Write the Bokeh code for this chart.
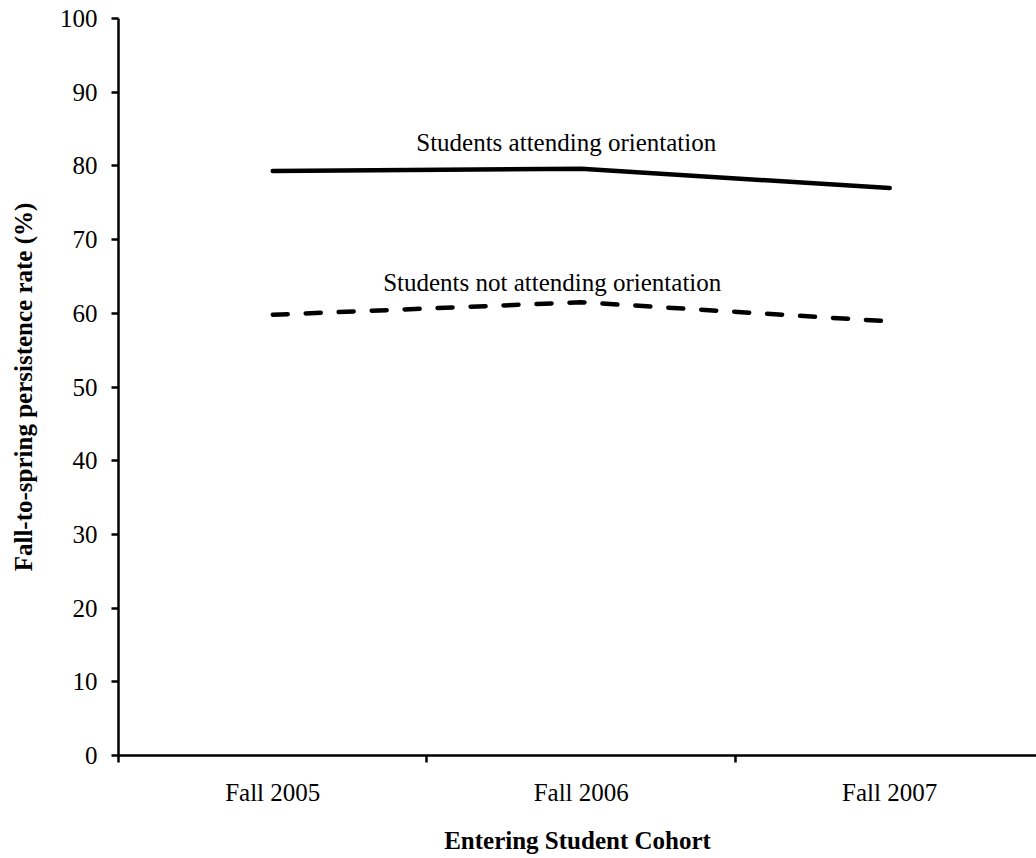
from bokeh.plotting import figure
from bokeh.models import Range1d, FixedTicker, Label, ColumnDataSource
from bokeh.embed import file_html
from bokeh.resources import INLINE

# ---- data ----
cohorts = ["Fall 2005", "Fall 2006", "Fall 2007"]
attending = [79.3, 79.6, 77.0]
not_attending = [59.8, 61.5, 58.9]
series_names = ["Students attending orientation", "Students not attending orientation"]
y_ticks = [0, 10, 20, 30, 40, 50, 60, 70, 80, 90, 100]

FONT = "Liberation Serif"
FS = "25px"

xc = [i + 0.5 for i in range(len(cohorts))]
bounds = [i for i in range(len(cohorts) + 1)]

p = figure(width=1036, height=856, output_backend="svg", toolbar_location=None,
           x_range=Range1d(0, 2.976), y_range=Range1d(0, 100),
           min_border_left=118, min_border_top=18, min_border_bottom=98, min_border_right=0)
p.outline_line_color = None
p.xgrid.visible = False
p.ygrid.visible = False
p.background_fill_color = "white"
p.border_fill_color = "white"

src = ColumnDataSource(dict(x=xc, a=attending, n=not_attending))
p.line("x", "a", source=src, line_color="black", line_width=4.5, line_cap="round", line_join="round")
p.line("x", "n", source=src, line_color="black", line_width=4.5, line_cap="round",
       line_dash="15 18")

# x axis
xa = p.xaxis[0]
xa.ticker = FixedTicker(ticks=xc, minor_ticks=bounds)
xa.major_label_overrides = {x: c for x, c in zip(xc, cohorts)}
xa.major_tick_out = 0
xa.major_tick_in = 0
xa.minor_tick_out = 7
xa.minor_tick_in = 0
xa.minor_tick_line_width = 2.5
xa.minor_tick_line_color = "black"
xa.axis_line_width = 2.5
xa.axis_line_color = "black"
xa.major_label_text_font = FONT
xa.major_label_text_font_size = FS
xa.major_label_text_color = "black"
xa.major_label_standoff = 16
xa.axis_label = "Entering Student Cohort"
xa.axis_label_text_font = FONT
xa.axis_label_text_font_size = FS
xa.axis_label_text_font_style = "bold"
xa.axis_label_text_color = "black"
xa.axis_label_standoff = 18

# y axis
ya = p.yaxis[0]
ya.ticker = FixedTicker(ticks=y_ticks, minor_ticks=[])
ya.major_tick_out = 7
ya.major_tick_in = 0
ya.major_tick_line_width = 2.5
ya.major_tick_line_color = "black"
ya.axis_line_width = 2.5
ya.axis_line_color = "black"
ya.major_label_text_font = FONT
ya.major_label_text_font_size = FS
ya.major_label_text_color = "black"
ya.major_label_standoff = 14
ya.axis_label = "Fall-to-spring persistence rate (%)"
ya.axis_label_text_font = FONT
ya.axis_label_text_font_size = FS
ya.axis_label_text_font_style = "bold"
ya.axis_label_text_color = "black"
ya.axis_label_standoff = 20

# series annotations
p.add_layout(Label(x=xc[1], y=attending[1], x_offset=-15, y_offset=26, text=series_names[0],
                   text_align="center", text_baseline="alphabetic",
                   text_font=FONT, text_font_size=FS, text_color="black"))
p.add_layout(Label(x=xc[1], y=not_attending[1], x_offset=-29, y_offset=20, text=series_names[1],
                   text_align="center", text_baseline="alphabetic",
                   text_font=FONT, text_font_size=FS, text_color="black"))

open("out.html", "w").write(file_html(p, INLINE))
